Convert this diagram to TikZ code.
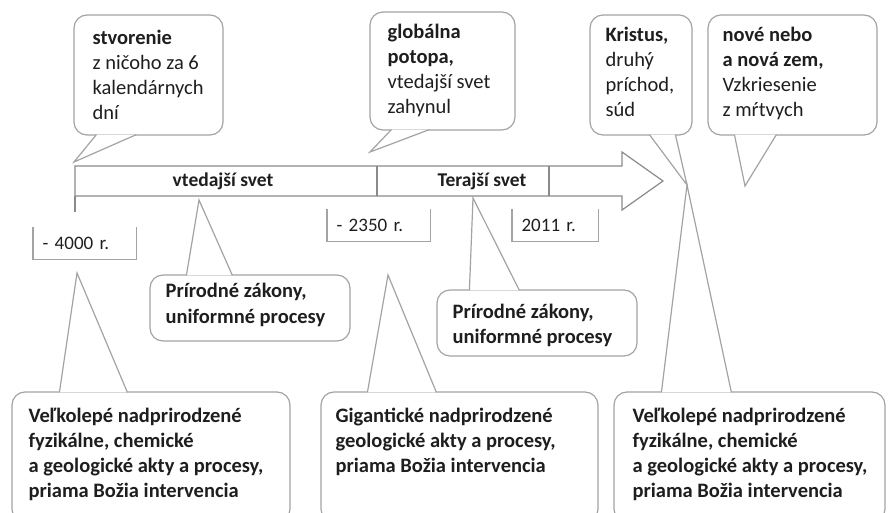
\documentclass[tikz,border=0pt]{standalone}
\usepackage{fontspec}
\setmainfont{Carlito}
\usetikzlibrary{positioning, calc}
\definecolor{linegray}{HTML}{A3A3A3}
\definecolor{arrowgray}{HTML}{8A8A8A}
\definecolor{ink}{HTML}{1E1E1E}

\begin{document}
\begin{tikzpicture}[
        x=1pt, y=-1pt,
        line width=1.2pt,
        bubble/.style={draw=linegray, rounded corners=13pt, inner sep=0pt},
        ptr/.style={draw=linegray, fill=white, line join=miter},
        txt/.style={font=\fontsize{20.5}{25}\selectfont, text=ink, align=left, inner sep=0pt, anchor=base west},
        btxt/.style={txt, font=\fontsize{20.5}{25}\selectfont\bfseries},
        seglabel/.style={font=\fontsize{19.5}{22}\selectfont\bfseries, text=ink, inner sep=0pt},
        datebox/.style={font=\fontsize{19}{22}\selectfont, text=ink, minimum height=31, inner xsep=9pt, align=left, anchor=north west},
        bracket/.style={draw=linegray}
    ]
        \useasboundingbox (0,0) rectangle (889,513);

        \draw[arrowgray] (75,166) -- (622,166) -- (622,152) -- (663,181) -- (622,210) -- (622,196) -- (75,196) -- cycle;
        \foreach \x in {377,549} {
            \draw[arrowgray] (\x,166) -- (\x,196);
        }
        \draw[arrowgray] (75,196) -- (75,212);
        \node[seglabel] (vted) at (223,181) {vtedajší svet};
        \node[seglabel] (teraj) at (482,181) {Terajší svet};

        \node[datebox, text width=84pt] (d4000) at (33,227) {- 4000 r.};
        \node[datebox, text width=84pt] (d2350) at (327,209) {- 2350 r.};
        \node[datebox, text width=67pt] (d2011) at (512,209) {2011 r.};
        \foreach \d in {d4000,d2350,d2011} {
            \draw[bracket] (\d.north west) -- (\d.south west) -- (\d.south east) -- (\d.north east);
        }

        \coordinate (stvtip) at (74,162);
        \coordinate (globtip) at (370,152);
        \coordinate (kristip) at (687,185);
        \coordinate (novtip) at (745,186);
        \coordinate (prir1tip) at (199,200);
        \coordinate (prir2tip) at (473,198);
        \coordinate (velk1tip) at (77,273);
        \coordinate (gigtip) at (388,275);

        \node[bubble, minimum width=149pt, minimum height=120pt] (stv) at (148.5,75) {};
        \node[bubble, minimum width=145pt, minimum height=118pt] (glob) at (442.5,71) {};
        \node[bubble, minimum width=102pt, minimum height=120pt] (kris) at (641,75) {};
        \node[bubble, minimum width=169pt, minimum height=120pt] (nov) at (792.5,75) {};
        \node[bubble, minimum width=200pt, minimum height=66pt] (prir1) at (250,308) {};
        \node[bubble, minimum width=200pt, minimum height=66pt] (prir2) at (537,323) {};
        \node[bubble, minimum width=278pt, minimum height=130pt] (velk1) at (151,457) {};
        \node[bubble, minimum width=277pt, minimum height=130pt] (gig) at (459.5,457) {};
        \node[bubble, minimum width=271pt, minimum height=130pt] (velk2) at (749.5,457) {};

        \filldraw[ptr] ([xshift=23pt,yshift=1pt]stv.south west) -- (stvtip) -- ([xshift=63pt,yshift=1pt]stv.south west);
        \filldraw[ptr] ([xshift=22pt,yshift=1pt]glob.south west) -- (globtip) -- ([xshift=60pt,yshift=1pt]glob.south west);
        \filldraw[ptr] ([xshift=60pt,yshift=1pt]kris.south west) -- (kristip) -- ([xshift=86pt,yshift=1pt]kris.south west);
        \filldraw[ptr] ([xshift=27pt,yshift=1pt]nov.south west) -- (novtip) -- ([xshift=69pt,yshift=1pt]nov.south west);
        \filldraw[ptr] ([xshift=37pt,yshift=-1pt]prir1.north west) -- (prir1tip) -- ([xshift=83pt,yshift=-1pt]prir1.north west);
        \filldraw[ptr] ([xshift=33pt,yshift=-1pt]prir2.north west) -- (prir2tip) -- ([xshift=83pt,yshift=-1pt]prir2.north west);
        \filldraw[ptr] ([xshift=48pt,yshift=-1pt]velk1.north west) -- (velk1tip) -- ([xshift=116pt,yshift=-1pt]velk1.north west);
        \filldraw[ptr] ([xshift=47pt,yshift=-1pt]gig.north west) -- (gigtip) -- ([xshift=116pt,yshift=-1pt]gig.north west);
        \filldraw[ptr] ([xshift=48pt,yshift=-1pt]velk2.north west) -- (kristip) -- ([xshift=118pt,yshift=-1pt]velk2.north west);

        \node[txt] (stvtxt) at (92,120) {\textbf{stvorenie}\\z ničoho za 6\\kalendárnych\\dní};
        \node[txt] (globtxt) at (387,114) {\textbf{globálna}\\\textbf{potopa,}\\vtedajší svet\\zahynul};
        \node[txt] (kristxt) at (605,117) {\textbf{Kristus,}\\druhý\\príchod,\\súd};
        \node[txt] (novtxt) at (722,117) {\textbf{nové nebo}\\\textbf{a nová zem,}\\Vzkriesenie\\z mŕtvych};
        \node[btxt] (prir1txt) at (165,323) {Prírodné zákony,\\uniformné procesy};
        \node[btxt] (prir2txt) at (452,343) {Prírodné zákony,\\uniformné procesy};
        \node[btxt] (velk1txt) at (28,497) {Veľkolepé nadprirodzené\\fyzikálne, chemické\\a geologické akty a procesy,\\priama Božia intervencia};
        \node[btxt] (gigtxt) at (335,472) {Gigantické nadprirodzené\\geologické akty a procesy,\\priama Božia intervencia};
        \node[btxt] (velk2txt) at (632,497) {Veľkolepé nadprirodzené\\fyzikálne, chemické\\a geologické akty a procesy,\\priama Božia intervencia};
    \end{tikzpicture}
\end{document}
